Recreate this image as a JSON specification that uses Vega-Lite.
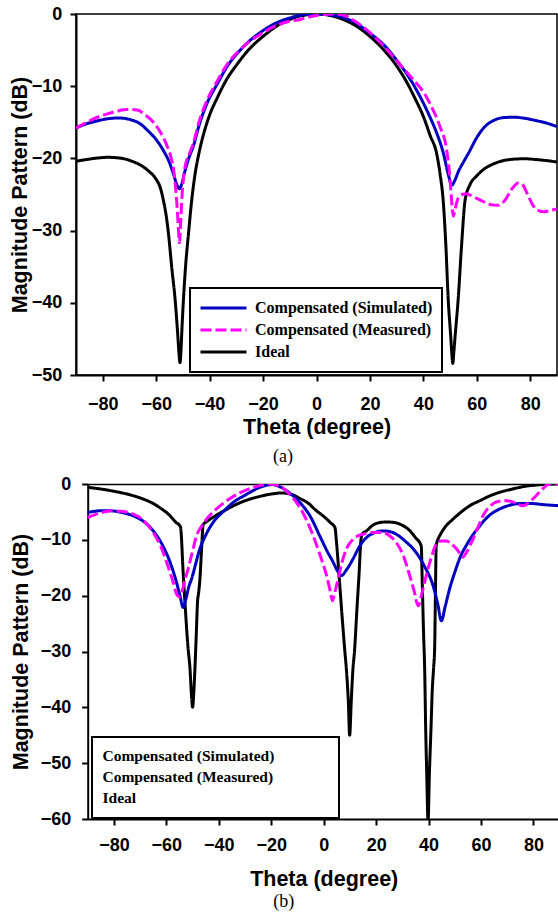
{
  "$schema": "https://vega.github.io/schema/vega-lite/v6.json",
  "background": "white",
  "padding": {"left": 8, "top": 4, "right": 0, "bottom": 0},
  "spacing": 8,
  "config": {
    "view": {"stroke": "black", "strokeWidth": 1.5},
    "axis": {"grid": false, "domainColor": "black", "domainWidth": 2, "tickColor": "black", "tickWidth": 2, "tickSize": 6, "labelFont": "Liberation Sans", "labelFontWeight": "bold", "labelFontSize": 18, "labelColor": "black", "titleFont": "Liberation Sans", "titleFontWeight": "bold", "titleFontSize": 21.5, "titleColor": "black"},
    "legend": {"strokeWidth": 2, "cornerRadius": 0, "labelFont": "Liberation Serif", "labelFontWeight": "bold", "labelColor": "black", "labelLimit": 500}
  },
  "resolve": {"scale": {"color": "independent", "strokeDash": "independent"}, "legend": {"color": "independent", "strokeDash": "independent"}},
  "datasets": {
    "a": [
      {"s":"Ideal","t":-90,"v":-20.4},{"s":"Ideal","t":-86,"v":-20.15},{"s":"Ideal","t":-82,"v":-19.95},{"s":"Ideal","t":-78,"v":-19.85},{"s":"Ideal","t":-75,"v":-19.9},{"s":"Ideal","t":-72,"v":-20.05},{"s":"Ideal","t":-69,"v":-20.4},{"s":"Ideal","t":-66,"v":-20.9},{"s":"Ideal","t":-63,"v":-21.7},{"s":"Ideal","t":-60,"v":-22.9},{"s":"Ideal","t":-58.5,"v":-24},{"s":"Ideal","t":-57.3,"v":-25.8},{"s":"Ideal","t":-56.3,"v":-27.8},{"s":"Ideal","t":-55.4,"v":-30.4},{"s":"Ideal","t":-54.2,"v":-35},{"s":"Ideal","t":-52.9,"v":-39.6},{"s":"Ideal","t":-52,"v":-44},{"s":"Ideal","t":-51.5,"v":-46.8},{"s":"Ideal","t":-51.1,"v":-48.3},{"s":"Ideal","t":-50.7,"v":-46.5},{"s":"Ideal","t":-50.4,"v":-44},{"s":"Ideal","t":-49.8,"v":-39.6},{"s":"Ideal","t":-48.9,"v":-34.5},{"s":"Ideal","t":-47.9,"v":-30.4},{"s":"Ideal","t":-46.7,"v":-25.8},{"s":"Ideal","t":-45.5,"v":-22.3},{"s":"Ideal","t":-44,"v":-19.3},{"s":"Ideal","t":-42,"v":-16.3},{"s":"Ideal","t":-40,"v":-14},{"s":"Ideal","t":-37,"v":-11.5},{"s":"Ideal","t":-34,"v":-9.3},{"s":"Ideal","t":-30,"v":-7.1},{"s":"Ideal","t":-25,"v":-4.8},{"s":"Ideal","t":-20,"v":-3.1},{"s":"Ideal","t":-15,"v":-1.7},{"s":"Ideal","t":-10,"v":-0.75},{"s":"Ideal","t":-5,"v":-0.2},{"s":"Ideal","t":0,"v":0},{"s":"Ideal","t":5,"v":-0.2},{"s":"Ideal","t":10,"v":-0.75},{"s":"Ideal","t":15,"v":-1.7},{"s":"Ideal","t":20,"v":-3.1},{"s":"Ideal","t":25,"v":-4.9},{"s":"Ideal","t":30,"v":-7.2},{"s":"Ideal","t":34,"v":-9.6},{"s":"Ideal","t":37,"v":-11.8},{"s":"Ideal","t":40,"v":-14.2},{"s":"Ideal","t":42.5,"v":-16.8},{"s":"Ideal","t":45,"v":-19.4},{"s":"Ideal","t":46.3,"v":-22.3},{"s":"Ideal","t":47.4,"v":-25.8},{"s":"Ideal","t":48.4,"v":-32},{"s":"Ideal","t":49.3,"v":-39.6},{"s":"Ideal","t":50.2,"v":-44.5},{"s":"Ideal","t":50.6,"v":-46.8},{"s":"Ideal","t":51,"v":-48.4},{"s":"Ideal","t":51.4,"v":-46.8},{"s":"Ideal","t":51.9,"v":-44.5},{"s":"Ideal","t":53,"v":-39.6},{"s":"Ideal","t":54.3,"v":-32},{"s":"Ideal","t":55.6,"v":-25.8},{"s":"Ideal","t":57.5,"v":-23.6},{"s":"Ideal","t":60,"v":-22.4},{"s":"Ideal","t":63,"v":-21.4},{"s":"Ideal","t":66,"v":-20.8},{"s":"Ideal","t":70,"v":-20.3},{"s":"Ideal","t":74,"v":-20.1},{"s":"Ideal","t":78,"v":-20.05},{"s":"Ideal","t":82,"v":-20.15},{"s":"Ideal","t":86,"v":-20.3},{"s":"Ideal","t":90,"v":-20.5},
      {"s":"Compensated (Simulated)","t":-90,"v":-15.8},{"s":"Compensated (Simulated)","t":-86,"v":-15.2},{"s":"Compensated (Simulated)","t":-82,"v":-14.8},{"s":"Compensated (Simulated)","t":-78,"v":-14.5},{"s":"Compensated (Simulated)","t":-74,"v":-14.4},{"s":"Compensated (Simulated)","t":-70,"v":-14.6},{"s":"Compensated (Simulated)","t":-66,"v":-15.2},{"s":"Compensated (Simulated)","t":-63,"v":-16.2},{"s":"Compensated (Simulated)","t":-60,"v":-17.4},{"s":"Compensated (Simulated)","t":-57,"v":-19.1},{"s":"Compensated (Simulated)","t":-55,"v":-20.6},{"s":"Compensated (Simulated)","t":-53.5,"v":-22.2},{"s":"Compensated (Simulated)","t":-52.3,"v":-23.6},{"s":"Compensated (Simulated)","t":-51.3,"v":-24.2},{"s":"Compensated (Simulated)","t":-50.4,"v":-23.5},{"s":"Compensated (Simulated)","t":-49.4,"v":-22},{"s":"Compensated (Simulated)","t":-48,"v":-20.2},{"s":"Compensated (Simulated)","t":-46,"v":-18.2},{"s":"Compensated (Simulated)","t":-44,"v":-15.5},{"s":"Compensated (Simulated)","t":-41,"v":-12.4},{"s":"Compensated (Simulated)","t":-37,"v":-9.6},{"s":"Compensated (Simulated)","t":-33.5,"v":-7.3},{"s":"Compensated (Simulated)","t":-29,"v":-5.2},{"s":"Compensated (Simulated)","t":-25,"v":-3.7},{"s":"Compensated (Simulated)","t":-20,"v":-2.3},{"s":"Compensated (Simulated)","t":-16,"v":-1.4},{"s":"Compensated (Simulated)","t":-10,"v":-0.55},{"s":"Compensated (Simulated)","t":-5,"v":-0.12},{"s":"Compensated (Simulated)","t":0,"v":0},{"s":"Compensated (Simulated)","t":5,"v":-0.12},{"s":"Compensated (Simulated)","t":10,"v":-0.5},{"s":"Compensated (Simulated)","t":15,"v":-1.3},{"s":"Compensated (Simulated)","t":19,"v":-2.4},{"s":"Compensated (Simulated)","t":25,"v":-4.2},{"s":"Compensated (Simulated)","t":30,"v":-6.4},{"s":"Compensated (Simulated)","t":35,"v":-9},{"s":"Compensated (Simulated)","t":38.7,"v":-11.4},{"s":"Compensated (Simulated)","t":42,"v":-13.9},{"s":"Compensated (Simulated)","t":45,"v":-16.5},{"s":"Compensated (Simulated)","t":47.5,"v":-19.3},{"s":"Compensated (Simulated)","t":49.3,"v":-22.2},{"s":"Compensated (Simulated)","t":50.6,"v":-23.7},{"s":"Compensated (Simulated)","t":51.7,"v":-23.1},{"s":"Compensated (Simulated)","t":53,"v":-21.9},{"s":"Compensated (Simulated)","t":55,"v":-20.5},{"s":"Compensated (Simulated)","t":57,"v":-19.2},{"s":"Compensated (Simulated)","t":60,"v":-17.1},{"s":"Compensated (Simulated)","t":63,"v":-15.6},{"s":"Compensated (Simulated)","t":66,"v":-14.8},{"s":"Compensated (Simulated)","t":70,"v":-14.35},{"s":"Compensated (Simulated)","t":74,"v":-14.3},{"s":"Compensated (Simulated)","t":78,"v":-14.45},{"s":"Compensated (Simulated)","t":82,"v":-14.75},{"s":"Compensated (Simulated)","t":86,"v":-15.1},{"s":"Compensated (Simulated)","t":90,"v":-15.6},
      {"s":"Compensated (Measured)","t":-90,"v":-15.8},{"s":"Compensated (Measured)","t":-86,"v":-15},{"s":"Compensated (Measured)","t":-82,"v":-14.3},{"s":"Compensated (Measured)","t":-78,"v":-13.8},{"s":"Compensated (Measured)","t":-74,"v":-13.4},{"s":"Compensated (Measured)","t":-70,"v":-13.2},{"s":"Compensated (Measured)","t":-67,"v":-13.3},{"s":"Compensated (Measured)","t":-64,"v":-14},{"s":"Compensated (Measured)","t":-61,"v":-15},{"s":"Compensated (Measured)","t":-58.5,"v":-16.3},{"s":"Compensated (Measured)","t":-56,"v":-18.2},{"s":"Compensated (Measured)","t":-54.5,"v":-19.8},{"s":"Compensated (Measured)","t":-53.3,"v":-22},{"s":"Compensated (Measured)","t":-52.4,"v":-25.5},{"s":"Compensated (Measured)","t":-51.7,"v":-29.5},{"s":"Compensated (Measured)","t":-51.3,"v":-31.7},{"s":"Compensated (Measured)","t":-50.8,"v":-28.5},{"s":"Compensated (Measured)","t":-50.2,"v":-24.5},{"s":"Compensated (Measured)","t":-49.3,"v":-21.4},{"s":"Compensated (Measured)","t":-47.5,"v":-19.3},{"s":"Compensated (Measured)","t":-46,"v":-17.8},{"s":"Compensated (Measured)","t":-44,"v":-15},{"s":"Compensated (Measured)","t":-41,"v":-12},{"s":"Compensated (Measured)","t":-37,"v":-9.2},{"s":"Compensated (Measured)","t":-33.5,"v":-7},{"s":"Compensated (Measured)","t":-29,"v":-5.1},{"s":"Compensated (Measured)","t":-25,"v":-3.8},{"s":"Compensated (Measured)","t":-20,"v":-2.6},{"s":"Compensated (Measured)","t":-15,"v":-1.6},{"s":"Compensated (Measured)","t":-10,"v":-1},{"s":"Compensated (Measured)","t":-6,"v":-0.75},{"s":"Compensated (Measured)","t":-2,"v":-0.35},{"s":"Compensated (Measured)","t":2,"v":-0.1},{"s":"Compensated (Measured)","t":6,"v":0},{"s":"Compensated (Measured)","t":10,"v":-0.15},{"s":"Compensated (Measured)","t":14,"v":-0.9},{"s":"Compensated (Measured)","t":18.8,"v":-2.2},{"s":"Compensated (Measured)","t":23,"v":-3.6},{"s":"Compensated (Measured)","t":27.5,"v":-5.4},{"s":"Compensated (Measured)","t":32,"v":-7.3},{"s":"Compensated (Measured)","t":36,"v":-9},{"s":"Compensated (Measured)","t":40,"v":-10.8},{"s":"Compensated (Measured)","t":43,"v":-12.8},{"s":"Compensated (Measured)","t":46.2,"v":-15.6},{"s":"Compensated (Measured)","t":48.7,"v":-18.8},{"s":"Compensated (Measured)","t":50,"v":-23},{"s":"Compensated (Measured)","t":50.7,"v":-26.5},{"s":"Compensated (Measured)","t":51.2,"v":-28},{"s":"Compensated (Measured)","t":51.9,"v":-27},{"s":"Compensated (Measured)","t":53,"v":-25.5},{"s":"Compensated (Measured)","t":54.5,"v":-25},{"s":"Compensated (Measured)","t":56,"v":-24.9},{"s":"Compensated (Measured)","t":58.7,"v":-25.3},{"s":"Compensated (Measured)","t":62,"v":-25.9},{"s":"Compensated (Measured)","t":65,"v":-26.4},{"s":"Compensated (Measured)","t":68,"v":-26.5},{"s":"Compensated (Measured)","t":70.5,"v":-25.8},{"s":"Compensated (Measured)","t":73,"v":-24.3},{"s":"Compensated (Measured)","t":75.5,"v":-23.4},{"s":"Compensated (Measured)","t":77,"v":-23.6},{"s":"Compensated (Measured)","t":79,"v":-25},{"s":"Compensated (Measured)","t":81,"v":-26.5},{"s":"Compensated (Measured)","t":83,"v":-27.2},{"s":"Compensated (Measured)","t":85,"v":-27.4},{"s":"Compensated (Measured)","t":87.5,"v":-27.2},{"s":"Compensated (Measured)","t":90,"v":-27}
    ],
    "b": [
      {"s":"Ideal","t":-90,"v":-0.6},{"s":"Ideal","t":-85,"v":-0.9},{"s":"Ideal","t":-80,"v":-1.3},{"s":"Ideal","t":-75,"v":-1.8},{"s":"Ideal","t":-70,"v":-2.5},{"s":"Ideal","t":-65,"v":-3.5},{"s":"Ideal","t":-62,"v":-4.4},{"s":"Ideal","t":-59,"v":-5.5},{"s":"Ideal","t":-56.5,"v":-6.8},{"s":"Ideal","t":-54.6,"v":-7.7},{"s":"Ideal","t":-54.2,"v":-10},{"s":"Ideal","t":-53.8,"v":-14},{"s":"Ideal","t":-52.8,"v":-22},{"s":"Ideal","t":-51.8,"v":-29},{"s":"Ideal","t":-51,"v":-33},{"s":"Ideal","t":-50.4,"v":-38},{"s":"Ideal","t":-50,"v":-40},{"s":"Ideal","t":-49.5,"v":-37},{"s":"Ideal","t":-49.1,"v":-33},{"s":"Ideal","t":-48.6,"v":-27},{"s":"Ideal","t":-48.1,"v":-21},{"s":"Ideal","t":-47.7,"v":-19.5},{"s":"Ideal","t":-47.2,"v":-17},{"s":"Ideal","t":-46.5,"v":-11},{"s":"Ideal","t":-46,"v":-7.3},{"s":"Ideal","t":-44.5,"v":-6.7},{"s":"Ideal","t":-42,"v":-5.9},{"s":"Ideal","t":-38,"v":-4.8},{"s":"Ideal","t":-34,"v":-3.8},{"s":"Ideal","t":-30,"v":-3},{"s":"Ideal","t":-25,"v":-2.3},{"s":"Ideal","t":-20,"v":-1.8},{"s":"Ideal","t":-16,"v":-1.6},{"s":"Ideal","t":-12,"v":-1.9},{"s":"Ideal","t":-9,"v":-2.6},{"s":"Ideal","t":-6,"v":-3.4},{"s":"Ideal","t":-3,"v":-4.7},{"s":"Ideal","t":0,"v":-5.8},{"s":"Ideal","t":2.5,"v":-6.9},{"s":"Ideal","t":4.3,"v":-7.8},{"s":"Ideal","t":4.8,"v":-10},{"s":"Ideal","t":5.8,"v":-16},{"s":"Ideal","t":6.9,"v":-23},{"s":"Ideal","t":8,"v":-29.6},{"s":"Ideal","t":8.7,"v":-33.5},{"s":"Ideal","t":9.4,"v":-39},{"s":"Ideal","t":9.9,"v":-45},{"s":"Ideal","t":10.5,"v":-39},{"s":"Ideal","t":11.1,"v":-33.5},{"s":"Ideal","t":11.8,"v":-29.6},{"s":"Ideal","t":12.6,"v":-23},{"s":"Ideal","t":13.5,"v":-16},{"s":"Ideal","t":14.2,"v":-10},{"s":"Ideal","t":14.6,"v":-9},{"s":"Ideal","t":16.3,"v":-8.4},{"s":"Ideal","t":19,"v":-7.3},{"s":"Ideal","t":21.5,"v":-6.9},{"s":"Ideal","t":24,"v":-6.8},{"s":"Ideal","t":27,"v":-6.9},{"s":"Ideal","t":30,"v":-7.4},{"s":"Ideal","t":32.5,"v":-8.2},{"s":"Ideal","t":35,"v":-9.6},{"s":"Ideal","t":37.2,"v":-11.1},{"s":"Ideal","t":37.6,"v":-18},{"s":"Ideal","t":38.1,"v":-27},{"s":"Ideal","t":38.5,"v":-33},{"s":"Ideal","t":38.9,"v":-44},{"s":"Ideal","t":39.3,"v":-52},{"s":"Ideal","t":39.8,"v":-60.5},{"s":"Ideal","t":40.3,"v":-52},{"s":"Ideal","t":40.9,"v":-44},{"s":"Ideal","t":41.4,"v":-37},{"s":"Ideal","t":41.9,"v":-33},{"s":"Ideal","t":42.3,"v":-29.6},{"s":"Ideal","t":42.6,"v":-20},{"s":"Ideal","t":42.9,"v":-11.1},{"s":"Ideal","t":43.5,"v":-10},{"s":"Ideal","t":44.2,"v":-9.3},{"s":"Ideal","t":46,"v":-7.9},{"s":"Ideal","t":49.3,"v":-6.3},{"s":"Ideal","t":53,"v":-4.8},{"s":"Ideal","t":56,"v":-3.8},{"s":"Ideal","t":59.5,"v":-3},{"s":"Ideal","t":63,"v":-2.2},{"s":"Ideal","t":67,"v":-1.5},{"s":"Ideal","t":72,"v":-0.9},{"s":"Ideal","t":77,"v":-0.4},{"s":"Ideal","t":82,"v":-0.15},{"s":"Ideal","t":86,"v":0},{"s":"Ideal","t":90,"v":0},
      {"s":"Compensated (Simulated)","t":-90,"v":-5.1},{"s":"Compensated (Simulated)","t":-85,"v":-4.8},{"s":"Compensated (Simulated)","t":-81.5,"v":-4.8},{"s":"Compensated (Simulated)","t":-77,"v":-5.1},{"s":"Compensated (Simulated)","t":-72.6,"v":-5.7},{"s":"Compensated (Simulated)","t":-69,"v":-6.6},{"s":"Compensated (Simulated)","t":-65,"v":-8.4},{"s":"Compensated (Simulated)","t":-62,"v":-10.5},{"s":"Compensated (Simulated)","t":-58.6,"v":-14},{"s":"Compensated (Simulated)","t":-56.5,"v":-17},{"s":"Compensated (Simulated)","t":-54.8,"v":-20},{"s":"Compensated (Simulated)","t":-53.6,"v":-22.1},{"s":"Compensated (Simulated)","t":-52.5,"v":-20.5},{"s":"Compensated (Simulated)","t":-51.5,"v":-18.5},{"s":"Compensated (Simulated)","t":-50.4,"v":-17},{"s":"Compensated (Simulated)","t":-47.2,"v":-11.6},{"s":"Compensated (Simulated)","t":-44.5,"v":-8.7},{"s":"Compensated (Simulated)","t":-42.2,"v":-6.9},{"s":"Compensated (Simulated)","t":-38,"v":-4.8},{"s":"Compensated (Simulated)","t":-34.5,"v":-3.3},{"s":"Compensated (Simulated)","t":-30,"v":-2},{"s":"Compensated (Simulated)","t":-27,"v":-1.2},{"s":"Compensated (Simulated)","t":-24.4,"v":-0.6},{"s":"Compensated (Simulated)","t":-21.5,"v":-0.2},{"s":"Compensated (Simulated)","t":-19.5,"v":-0.1},{"s":"Compensated (Simulated)","t":-16.7,"v":-0.5},{"s":"Compensated (Simulated)","t":-13,"v":-1.6},{"s":"Compensated (Simulated)","t":-9.1,"v":-3.3},{"s":"Compensated (Simulated)","t":-5,"v":-5.9},{"s":"Compensated (Simulated)","t":-1.5,"v":-9.3},{"s":"Compensated (Simulated)","t":1.5,"v":-12.2},{"s":"Compensated (Simulated)","t":3.6,"v":-14},{"s":"Compensated (Simulated)","t":5.3,"v":-15.6},{"s":"Compensated (Simulated)","t":6.8,"v":-16.4},{"s":"Compensated (Simulated)","t":8.5,"v":-15.5},{"s":"Compensated (Simulated)","t":11.2,"v":-13.4},{"s":"Compensated (Simulated)","t":13.5,"v":-11.3},{"s":"Compensated (Simulated)","t":16.3,"v":-9.6},{"s":"Compensated (Simulated)","t":19.5,"v":-8.7},{"s":"Compensated (Simulated)","t":22.6,"v":-8.4},{"s":"Compensated (Simulated)","t":25,"v":-8.5},{"s":"Compensated (Simulated)","t":27.7,"v":-9},{"s":"Compensated (Simulated)","t":31,"v":-10.2},{"s":"Compensated (Simulated)","t":35.3,"v":-12.3},{"s":"Compensated (Simulated)","t":38.5,"v":-14.8},{"s":"Compensated (Simulated)","t":41.7,"v":-18.2},{"s":"Compensated (Simulated)","t":43.5,"v":-21.5},{"s":"Compensated (Simulated)","t":44.9,"v":-24.5},{"s":"Compensated (Simulated)","t":46.3,"v":-22},{"s":"Compensated (Simulated)","t":48,"v":-18.8},{"s":"Compensated (Simulated)","t":50,"v":-15.8},{"s":"Compensated (Simulated)","t":51.8,"v":-13.4},{"s":"Compensated (Simulated)","t":55,"v":-10.5},{"s":"Compensated (Simulated)","t":59.5,"v":-7.5},{"s":"Compensated (Simulated)","t":63,"v":-5.7},{"s":"Compensated (Simulated)","t":67,"v":-4.5},{"s":"Compensated (Simulated)","t":71,"v":-3.8},{"s":"Compensated (Simulated)","t":74.7,"v":-3.5},{"s":"Compensated (Simulated)","t":79,"v":-3.5},{"s":"Compensated (Simulated)","t":84,"v":-3.7},{"s":"Compensated (Simulated)","t":90,"v":-3.9},
      {"s":"Compensated (Measured)","t":-90,"v":-6},{"s":"Compensated (Measured)","t":-86,"v":-5.3},{"s":"Compensated (Measured)","t":-81,"v":-4.8},{"s":"Compensated (Measured)","t":-77,"v":-4.9},{"s":"Compensated (Measured)","t":-72.6,"v":-5.4},{"s":"Compensated (Measured)","t":-69,"v":-6.4},{"s":"Compensated (Measured)","t":-65,"v":-8.7},{"s":"Compensated (Measured)","t":-62.3,"v":-11},{"s":"Compensated (Measured)","t":-59.9,"v":-14},{"s":"Compensated (Measured)","t":-57.8,"v":-17},{"s":"Compensated (Measured)","t":-56.1,"v":-19.7},{"s":"Compensated (Measured)","t":-55,"v":-20.2},{"s":"Compensated (Measured)","t":-54,"v":-19.2},{"s":"Compensated (Measured)","t":-52.8,"v":-17},{"s":"Compensated (Measured)","t":-51.7,"v":-15.2},{"s":"Compensated (Measured)","t":-50,"v":-12},{"s":"Compensated (Measured)","t":-48.5,"v":-9.3},{"s":"Compensated (Measured)","t":-46.5,"v":-7.5},{"s":"Compensated (Measured)","t":-44.7,"v":-6.3},{"s":"Compensated (Measured)","t":-41,"v":-4.5},{"s":"Compensated (Measured)","t":-37,"v":-3},{"s":"Compensated (Measured)","t":-32,"v":-1.6},{"s":"Compensated (Measured)","t":-26.9,"v":-0.6},{"s":"Compensated (Measured)","t":-23,"v":-0.15},{"s":"Compensated (Measured)","t":-20.5,"v":0},{"s":"Compensated (Measured)","t":-18.5,"v":-0.15},{"s":"Compensated (Measured)","t":-16.7,"v":-0.4},{"s":"Compensated (Measured)","t":-13.5,"v":-1.6},{"s":"Compensated (Measured)","t":-10.4,"v":-3.3},{"s":"Compensated (Measured)","t":-7,"v":-6},{"s":"Compensated (Measured)","t":-4,"v":-9.3},{"s":"Compensated (Measured)","t":-1.5,"v":-12.6},{"s":"Compensated (Measured)","t":1.1,"v":-16.4},{"s":"Compensated (Measured)","t":2.5,"v":-19.2},{"s":"Compensated (Measured)","t":3.3,"v":-20.9},{"s":"Compensated (Measured)","t":4.2,"v":-19.5},{"s":"Compensated (Measured)","t":5.5,"v":-17},{"s":"Compensated (Measured)","t":7,"v":-14},{"s":"Compensated (Measured)","t":8.7,"v":-11.6},{"s":"Compensated (Measured)","t":11,"v":-10},{"s":"Compensated (Measured)","t":13,"v":-9.3},{"s":"Compensated (Measured)","t":15,"v":-9},{"s":"Compensated (Measured)","t":18.5,"v":-8.7},{"s":"Compensated (Measured)","t":22.6,"v":-8.7},{"s":"Compensated (Measured)","t":25.5,"v":-9.4},{"s":"Compensated (Measured)","t":27.7,"v":-10.5},{"s":"Compensated (Measured)","t":30.5,"v":-13},{"s":"Compensated (Measured)","t":32.8,"v":-16.4},{"s":"Compensated (Measured)","t":34.5,"v":-19.2},{"s":"Compensated (Measured)","t":36,"v":-21.8},{"s":"Compensated (Measured)","t":37.5,"v":-19.5},{"s":"Compensated (Measured)","t":39.1,"v":-16.4},{"s":"Compensated (Measured)","t":41,"v":-13.2},{"s":"Compensated (Measured)","t":42.9,"v":-10.8},{"s":"Compensated (Measured)","t":44.8,"v":-10.2},{"s":"Compensated (Measured)","t":46.8,"v":-10.2},{"s":"Compensated (Measured)","t":48.8,"v":-10.8},{"s":"Compensated (Measured)","t":50.6,"v":-11.6},{"s":"Compensated (Measured)","t":52,"v":-12.5},{"s":"Compensated (Measured)","t":53.1,"v":-13.1},{"s":"Compensated (Measured)","t":54.5,"v":-12.2},{"s":"Compensated (Measured)","t":56.9,"v":-9.9},{"s":"Compensated (Measured)","t":58.8,"v":-7.8},{"s":"Compensated (Measured)","t":60.7,"v":-5.7},{"s":"Compensated (Measured)","t":63,"v":-4.2},{"s":"Compensated (Measured)","t":65,"v":-3.4},{"s":"Compensated (Measured)","t":67,"v":-3.1},{"s":"Compensated (Measured)","t":69.5,"v":-3},{"s":"Compensated (Measured)","t":72.1,"v":-3.2},{"s":"Compensated (Measured)","t":74,"v":-3.6},{"s":"Compensated (Measured)","t":75.9,"v":-3.9},{"s":"Compensated (Measured)","t":77.5,"v":-3.6},{"s":"Compensated (Measured)","t":79.5,"v":-2.8},{"s":"Compensated (Measured)","t":81,"v":-2.1},{"s":"Compensated (Measured)","t":83,"v":-1.1},{"s":"Compensated (Measured)","t":86.1,"v":0},{"s":"Compensated (Measured)","t":88,"v":0},{"s":"Compensated (Measured)","t":90,"v":0}
    ]
  },
  "vconcat": [
    {
      "width": 481,
      "height": 361,
      "data": {"name": "a"},
      "title": {"text": "(a)", "orient": "bottom", "font": "Liberation Serif", "fontSize": 18, "fontWeight": "normal", "color": "black", "dx": -33.5, "offset": 10},
      "mark": {"type": "line", "strokeWidth": 3, "clip": true, "interpolate": "monotone"},
      "encoding": {
        "x": {"field": "t", "type": "quantitative", "scale": {"domain": [-90, 90], "nice": false, "zero": false}, "axis": {"values": [-80, -60, -40, -20, 0, 20, 40, 60, 80], "title": "Theta (degree)", "labelPadding": 14, "titlePadding": 3.5}},
        "y": {"field": "v", "type": "quantitative", "scale": {"domain": [-50, 0], "nice": false}, "axis": {"values": [-50, -40, -30, -20, -10, 0], "title": "Magnitude Pattern (dB)", "labelPadding": 8.3, "titlePadding": 0}},
        "color": {"field": "s", "type": "nominal", "scale": {"domain": ["Compensated (Simulated)", "Compensated (Measured)", "Ideal"], "range": ["#0000C0", "#FF00FF", "#000000"]},
          "legend": {"orient": "none", "legendX": 114, "legendY": 274, "title": null, "symbolType": "stroke", "symbolSize": 2116, "symbolStrokeWidth": 3, "clipHeight": 22, "labelOffset": 7, "padding": 9, "rowPadding": 0, "strokeColor": "black", "fillColor": "white", "labelFontSize": 16}},
        "strokeDash": {"field": "s", "type": "nominal", "scale": {"domain": ["Compensated (Simulated)", "Compensated (Measured)", "Ideal"], "range": [[1, 0], [11, 4], [1, 0]]},
          "legend": {"orient": "none", "legendX": 114, "legendY": 274, "title": null, "symbolType": "stroke", "symbolSize": 2116, "symbolStrokeWidth": 3, "clipHeight": 22, "labelOffset": 7, "padding": 9, "rowPadding": 0, "strokeColor": "black", "fillColor": "white", "labelFontSize": 16}}
      }
    },
    {
      "width": 483.7,
      "height": 335,
      "data": {"name": "b"},
      "view": {"stroke": null},
      "title": {"text": "(b)", "orient": "bottom", "font": "Liberation Serif", "fontSize": 18, "fontWeight": "normal", "color": "black", "dx": -34, "offset": 3},
      "resolve": {"axis": {"x": "independent"}},
      "layer": [
        {
          "mark": {"type": "line", "strokeWidth": 3, "clip": true, "interpolate": "monotone"},
          "encoding": {
            "x": {"field": "t", "type": "quantitative", "scale": {"domain": [-90, 90], "range": [11.7, 483.7], "nice": false, "zero": false}, "axis": {"values": [-80, -60, -40, -20, 0, 20, 40, 60, 80], "title": "Theta (degree)", "labelPadding": 11, "titlePadding": 14}},
            "y": {"field": "v", "type": "quantitative", "scale": {"domain": [-60, 0], "nice": false}, "axis": {"values": [-60, -50, -40, -30, -20, -10, 0], "title": "Magnitude Pattern (dB)", "labelPadding": 11, "titlePadding": 8, "offset": -11.7}},
            "color": {"field": "s", "type": "nominal", "scale": {"domain": ["Compensated (Simulated)", "Compensated (Measured)", "Ideal"], "range": ["#0000C0", "#FF00FF", "#000000"]},
              "legend": {"orient": "none", "legendX": 16, "legendY": 253, "title": null, "symbolType": "stroke", "symbolSize": 100, "symbolStrokeWidth": 0.01, "symbolOpacity": 0.01, "symbolOffset": 212, "labelOffset": -228, "padding": 11, "rowPadding": 4, "strokeColor": "black", "fillColor": "white", "labelFontSize": 15.5}},
            "strokeDash": {"field": "s", "type": "nominal", "scale": {"domain": ["Compensated (Simulated)", "Compensated (Measured)", "Ideal"], "range": [[1, 0], [11, 4], [1, 0]]},
              "legend": {"orient": "none", "legendX": 16, "legendY": 253, "title": null, "symbolType": "stroke", "symbolSize": 100, "symbolStrokeWidth": 0.01, "symbolOpacity": 0.01, "symbolOffset": 212, "labelOffset": -228, "padding": 11, "rowPadding": 4, "strokeColor": "black", "fillColor": "white", "labelFontSize": 15.5}}
          }
        },
        {
          "mark": {"type": "point", "opacity": 0},
          "encoding": {
            "x": {"field": "t", "type": "quantitative", "scale": {"domain": [-90, 90], "range": [11.7, 483.7], "nice": false, "zero": false}, "axis": {"orient": "top", "labels": false, "ticks": false, "title": null, "domainWidth": 1.5}}
          }
        }
      ]
    }
  ]
}
